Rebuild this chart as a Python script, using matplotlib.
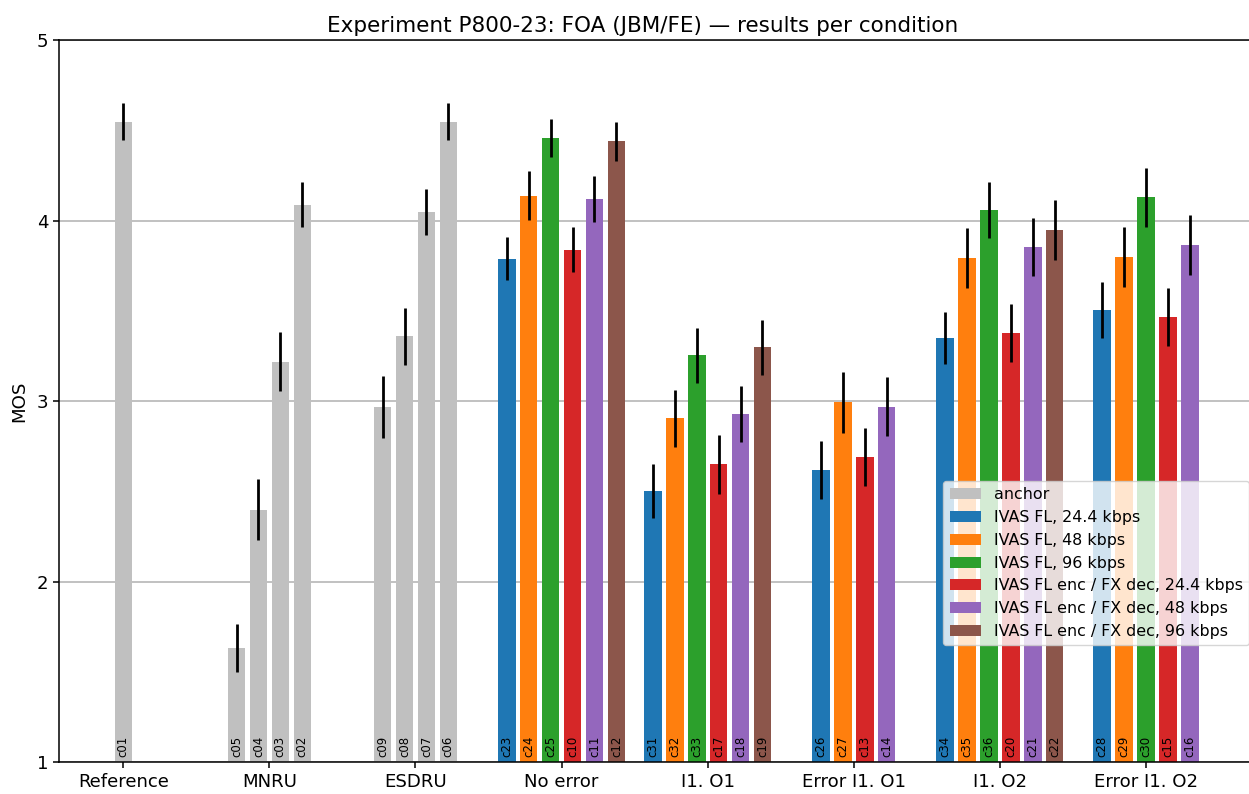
import matplotlib
matplotlib.use("Agg")
import matplotlib.pyplot as plt
from matplotlib.patches import Patch

# Test groups (x axis)
groups = ["Reference", "MNRU", "ESDRU", "No error", "I1. O1",
          "Error I1. O1", "I1. O2", "Error I1. O2"]

# Series shown in the legend
series_names = ["anchor",
                "IVAS FL, 24.4 kbps",
                "IVAS FL, 48 kbps",
                "IVAS FL, 96 kbps",
                "IVAS FL enc / FX dec, 24.4 kbps",
                "IVAS FL enc / FX dec, 48 kbps",
                "IVAS FL enc / FX dec, 96 kbps"]
series_colors = ["silver", "#1f77b4", "#ff7f0e", "#2ca02c",
                 "#d62728", "#9467bd", "#8c564b"]

# Per-group conditions: label, series index, MOS, 95% CI half-width
ref_cond = ["c01"]
ref_series = [0]
ref_mos = [4.55]
ref_ci = [0.10]

mnru_cond = ["c05", "c04", "c03", "c02"]
mnru_series = [0, 0, 0, 0]
mnru_mos = [1.635, 2.40, 3.22, 4.09]
mnru_ci = [0.133, 0.17, 0.165, 0.127]

esdru_cond = ["c09", "c08", "c07", "c06"]
esdru_series = [0, 0, 0, 0]
esdru_mos = [2.97, 3.36, 4.05, 4.55]
esdru_ci = [0.172, 0.157, 0.128, 0.10]

noerr_cond = ["c23", "c24", "c25", "c10", "c11", "c12"]
noerr_series = [1, 2, 3, 4, 5, 6]
noerr_mos = [3.79, 4.14, 4.46, 3.84, 4.12, 4.44]
noerr_ci = [0.12, 0.134, 0.106, 0.124, 0.127, 0.11]

i1o1_cond = ["c31", "c32", "c33", "c17", "c18", "c19"]
i1o1_series = [1, 2, 3, 4, 5, 6]
i1o1_mos = [2.505, 2.905, 3.255, 2.65, 2.93, 3.30]
i1o1_ci = [0.15, 0.158, 0.153, 0.165, 0.153, 0.153]

erri1o1_cond = ["c26", "c27", "c13", "c14"]
erri1o1_series = [1, 2, 4, 5]
erri1o1_mos = [2.62, 2.995, 2.69, 2.97]
erri1o1_ci = [0.161, 0.168, 0.162, 0.162]

i1o2_cond = ["c34", "c35", "c36", "c20", "c21", "c22"]
i1o2_series = [1, 2, 3, 4, 5, 6]
i1o2_mos = [3.35, 3.795, 4.06, 3.38, 3.855, 3.95]
i1o2_ci = [0.143, 0.165, 0.156, 0.16, 0.163, 0.165]

erri1o2_cond = ["c28", "c29", "c30", "c15", "c16"]
erri1o2_series = [1, 2, 3, 4, 5]
erri1o2_mos = [3.505, 3.80, 4.13, 3.467, 3.866]
erri1o2_ci = [0.155, 0.168, 0.163, 0.159, 0.166]

group_data = [
    (ref_cond, ref_series, ref_mos, ref_ci),
    (mnru_cond, mnru_series, mnru_mos, mnru_ci),
    (esdru_cond, esdru_series, esdru_mos, esdru_ci),
    (noerr_cond, noerr_series, noerr_mos, noerr_ci),
    (i1o1_cond, i1o1_series, i1o1_mos, i1o1_ci),
    (erri1o1_cond, erri1o1_series, erri1o1_mos, erri1o1_ci),
    (i1o2_cond, i1o2_series, i1o2_mos, i1o2_ci),
    (erri1o2_cond, erri1o2_series, erri1o2_mos, erri1o2_ci),
]

W, H, DPI = 1249, 794, 100
fig = plt.figure(figsize=(W / DPI, H / DPI), dpi=DPI)
ax = fig.add_axes([59.3 / W, 1 - 762.3 / H, 1191.9 / W, 722.0 / H])

slot = 0.15
bar_w = 0.12
baseline = 1.0

for gi, (conds, sers, mos, ci) in enumerate(group_data):
    n = len(conds)
    for i in range(n):
        x = gi + (i - (n - 1) / 2) * slot
        ax.bar(x, mos[i] - baseline, bottom=baseline, width=bar_w,
               color=series_colors[sers[i]], zorder=2)
        ax.errorbar(x, mos[i], yerr=ci[i], fmt="none", ecolor="black",
                    elinewidth=2.0, capsize=0, zorder=3)
        ax.text(x, baseline + 0.03, conds[i], rotation=90, ha="center",
                va="bottom", fontsize=8.5, zorder=4)

ax.set_xlim(-0.438, 7.72)
ax.set_ylim(1, 5)
ax.set_xticks(range(len(groups)))
ax.set_xticklabels(groups)
ax.set_yticks([1, 2, 3, 4, 5])
ax.tick_params(axis="both", labelsize=13.1, width=1.1, length=4.5)
ax.yaxis.grid(True, color="#b0b0b0", linewidth=1.1, zorder=0)
ax.set_axisbelow(True)
for sp in ax.spines.values():
    sp.set_linewidth(1.1)
ax.spines["right"].set_visible(False)

ax.set_ylabel("MOS", fontsize=13.1, labelpad=6)
ax.set_title("Experiment P800-23: FOA (JBM/FE) \u2014 results per condition",
             fontsize=15.5, x=(643 - 59.3) / 1191.9)

handles = [Patch(facecolor=c, label=l) for c, l in zip(series_colors, series_names)]
ax.legend(handles=handles, loc="upper left",
          bbox_to_anchor=(943.3 / W, 1 - 481 / H),
          bbox_transform=fig.transFigure, borderaxespad=0,
          fontsize=11.4, labelspacing=0.49, framealpha=0.8)

fig.savefig("out.png", dpi=DPI)
